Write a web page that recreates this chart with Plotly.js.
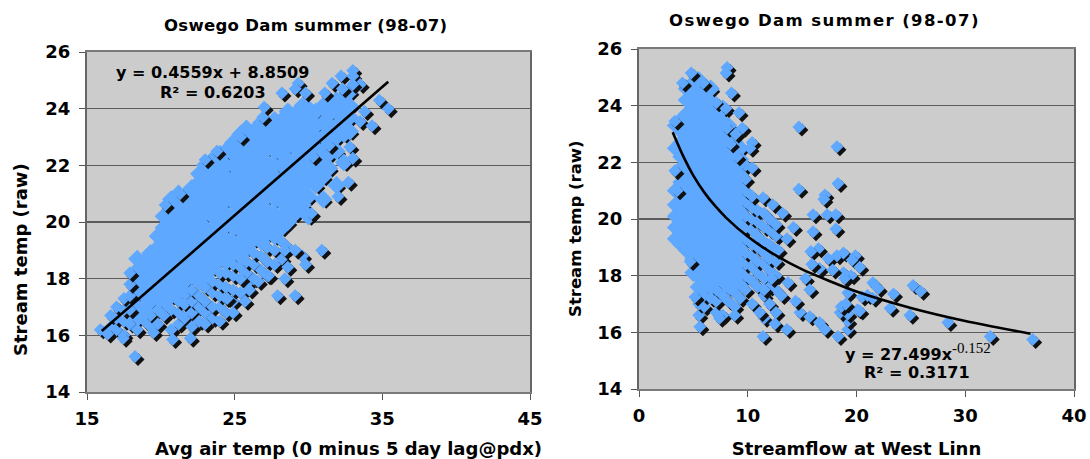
<!DOCTYPE html>
<html><head><meta charset="utf-8">
<script src="https://cdn.plot.ly/plotly-3.0.1.min.js"></script>
<style>html,body{margin:0;padding:0;background:#fff}#c{width:1090px;height:459px}</style>
</head><body><div id="c"></div>
<script>
// LEFT PANEL: individually read points on the cloud's rim
const airEdgeX = [18.25,15.9,16.4,17.45,20.8,22,19.5,24.9,23,24,20.3,21.3,23,23.8,25.4,27,26.9,28.2,29.3,29.1,29.8,31.1,31.6,32.2,33,33,32.3,33.5,33,34.8,35.4,33.8,33.5,32.8,33,32.7,32,30.2,30.9,29.1,27.9,25.7,28.4,29.1,29.8,28.4,26,27.3,26.6,24.5,25.4,30.3,31.4,34.3];
const airEdgeY = [15.25,16.2,16.05,15.9,15.85,15.9,16.1,16.8,16.4,16.5,20.6,21,22.2,22.5,23,24.05,23.7,24.55,24.9,24.7,24.55,24.55,24.9,25.15,25.35,25.15,24.7,24.85,24.85,24.3,24,23.9,23.55,22.65,22.25,21.4,20.9,20.3,19,17.4,17.4,17.2,19,19,18.5,18,17.6,18.1,17.9,17.3,18,22.3,22.7,23.4];
// LEFT PANEL: the dense body of the cloud, one row per air-temperature column
const airColX = [16.6,17.0,17.5,17.9,18.4,18.9,19.3,19.8,20.2,20.7,21.2,21.6,22.1,22.6,23.0,23.5,24.0,24.4,24.9,25.4,25.8,26.3,26.8,27.2,27.7,28.2,28.6,29.1,29.6,30.0,30.5,31.0,31.4,31.9,32.4,32.8];
const airColY = [
[16.3,16.7],[16.2,16.6,17.0],[16.0,16.5,16.9,17.3],[16.4,16.9,17.4,17.8,18.2],[16.2,16.6,17.0,17.5,17.9,18.3,18.7],
[16.5,16.9,17.4,17.8,18.2,18.6],[16.3,16.7,17.2,17.6,18.1,18.5,18.9],[16.4,16.9,17.3,17.8,18.2,18.7,19.1,19.5],
[16.7,17.1,17.6,18,18.4,18.9,19.3,19.8,20.2],[16.2,16.9,17.4,17.8,18.3,18.7,19.2,19.6,20,20.4,20.8],
[16.4,16.8,17.2,17.7,18.1,18.5,19,19.4,19.9,20.3,20.7,21],[16.6,17.1,17.5,17.9,18.4,18.8,19.3,19.7,20.1,20.5,20.9],
[16.3,16.8,17.2,17.6,18.1,18.6,19,19.5,19.9,20.3,20.8,21.2],[16.5,17,17.4,17.9,18.3,18.8,19.2,19.6,20.1,20.5,21,21.4,21.7],
[16.8,17.2,17.7,18.1,18.5,19,19.4,19.8,20.3,20.7,21.2,21.6,22],[16.6,17,17.5,17.9,18.4,18.8,19.3,19.7,20.2,20.6,21,21.5,21.9,22.2],
[17,17.4,17.8,18.2,18.7,19.1,19.5,20,20.4,20.9,21.3,21.7,22.1,22.4],[16.8,17.3,17.7,18.2,18.6,19,19.4,19.9,20.3,20.8,21.2,21.6,22,22.5],
[17.2,17.6,18.1,18.5,18.9,19.3,19.8,20.2,20.7,21.1,21.5,22,22.4,22.8],[17.5,18,18.4,18.8,19.2,19.7,20.1,20.5,21,21.4,21.8,22.3,22.7,23.1],
[17.8,18.2,18.6,19.1,19.5,20,20.4,20.9,21.3,21.7,22.2,22.6,23,23.3],[18,18.5,18.9,19.4,19.8,20.2,20.7,21.1,21.5,22,22.4,22.8,23.2],
[18.3,18.8,19.3,19.7,20.1,20.5,21,21.4,21.8,22.3,22.7,23.1,23.5],[18.1,18.6,19.1,19.6,20,20.4,20.9,21.3,21.7,22.1,22.6,23,23.4],
[18.5,19,19.5,19.9,20.3,20.8,21.2,21.6,22,22.5,22.9,23.3,23.6],[18.7,19.3,19.8,20.2,20.7,21.1,21.5,22,22.4,22.8,23.2,23.6],
[18.4,19.1,20,20.5,21,21.4,21.8,22.2,22.7,23.1,23.5,23.9],[20.3,20.8,21.3,21.7,22.1,22.6,23,23.4,23.8],
[18.8,20.6,21.1,21.6,22,22.4,22.8,23.3,23.7,24.1],[20.2,20.9,21.5,21.9,22.3,22.7,23.2,23.6,24],
[21.3,21.8,22.2,22.6,23,23.4,23.9],[20.8,21.6,22.1,22.5,23,23.5,24.1],[21.9,22.4,22.9,23.4,23.8,24.2],
[21.3,22.5,23,23.4,23.9,24.3],[22.1,23.1,23.6,24,24.4],[23.2,23.7,24.1,24.6]];

// RIGHT PANEL: individually read points on the cloud's rim and the loose tail
const flowEdgeX = [4.8,8.1,8,8.5,5.9,4,3.3,3.3,3.5,4.7,5.15,5.6,7.4,8.8,11.4,11.1,12.5,13.6,7.1,8,9.2,9.5,8.1,8.9,10.4,10.2,8.4,10.4,9,11.4,12.3,13.2,14.7,18.2,14.7,18.3,17.1,17.0,16,17.3,18.1,16,18.1,16.5,15.8,17.4,18.2,18.8,19.9,19.6,20.3,18.8,16.6,15.3,15.7,13.7,14.8,15.7,16.6,17.1,18.3,19.2,19.2,18.5,19.2,20.1,19.2,20.5,21.5,22,23.4,25.2,25.9,23.1,24.9,28.4,32.3,36.2,20.3,21,21.5,14.2,13.6,12.8,13.1,14.4,12.2,11.5,15.9,17.8,19.5,18.9,18.6,19.0];
const flowEdgeY = [25.15,25.35,25.15,24.45,24.8,24.8,23.45,21.7,21,18.5,17.25,16.2,16.5,16.6,15.85,16.7,16.3,16.1,24.1,23.9,23.75,23.2,23.2,23,22.7,22.5,22.65,21.8,22.2,20.75,20.5,20.2,23.25,22.55,21.05,21.25,20.85,20.7,20.15,20.15,20.15,19.55,19.65,18.95,18.85,18.6,18.7,18.8,18.7,18.55,18.3,18.1,18.25,17.9,17.5,17.75,16.7,16.55,16.35,16.1,15.85,16.1,16.4,16.7,16.65,16.8,17.4,17.25,17.75,17.55,17.35,17.65,17.45,16.85,16.6,16.35,15.85,15.75,16.75,17.3,17.2,19.7,19.3,18.9,17.3,17.1,17.9,17.5,18.4,18.2,18,17.9,16.9,17];
// RIGHT PANEL: the dense body, one row per streamflow column
const flowColX = [3.4,3.9,4.4,5.0,5.5,6.0,6.6,7.1,7.7,8.2,8.8,9.3,9.8,10.4,10.9,11.5,12.0,12.6];
const flowColY = [
[19.3,19.7,20.1,20.5,21,22.5,23.3],[19.1,19.6,20,20.4,20.9,21.3,21.8,22.2,22.7,23.1,23.5],
[18.9,19.3,19.8,20.2,20.6,21.1,21.5,22,22.4,22.8,23.2,23.7,24.2,24.6],[18.1,18.6,19,19.5,19.9,20.3,20.8,21.2,21.6,22.1,22.5,23,23.4,23.9,24.3,24.8],
[16.6,17,17.6,18,18.4,18.9,19.3,19.7,20.2,20.6,21,21.5,21.9,22.4,22.8,23.2,23.6,24,24.5,24.9],
[16.9,17.3,17.8,18.2,18.6,19.1,19.5,20,20.4,20.8,21.3,21.7,22.2,22.6,23,23.5,23.9,24.3,24.7],
[17.2,17.6,18.1,18.5,18.9,19.3,19.8,20.2,20.7,21.1,21.5,22,22.4,22.8,23.3,23.7,24.1,24.6],
[16.7,17.1,17.5,18,18.4,18.8,19.2,19.7,20.1,20.6,21,21.4,21.9,22.3,22.7,23.1,23.6,24],
[16.6,17.3,17.8,18.2,18.7,19.1,19.5,20,20.4,20.8,21.3,21.7,22.1,22.6,23,23.4,23.9],
[17.1,17.6,18,18.5,18.9,19.3,19.8,20.2,20.6,21.1,21.5,21.9,22.4,22.8,23.3],
[16.9,17.4,17.9,18.3,18.8,19.2,19.6,20.1,20.5,20.9,21.4,21.8,22.3,22.7],
[17.2,17.7,18.1,18.6,19,19.5,19.9,20.3,20.8,21.2,21.6,22.1,22.5],
[17.5,18,18.4,18.8,19.3,19.7,20.1,20.6,21,21.4,21.9],[17,17.8,18.3,18.7,19.1,19.6,20,20.4,20.8],
[17.6,18.1,18.5,19,19.4,19.9,20.3],[16.5,17.3,17.9,18.4,18.8,19.2,19.7,20.2],[17,17.6,18.2,18.6,19.1,19.6,20],[16.7,17.5,18,18.5,18.9,19.4,19.8]];

// Trendlines
const airLineX = [16,35.4];
const airLineY = [16.15,24.95];
const flowLineX = [3.1,4,5,6,7,8,10,12,15,20,25,30,36];
const flowLineY = [23.06,22.27,21.53,20.94,20.46,20.05,19.38,18.85,18.22,17.44,16.86,16.4,15.95];

const titleText = 'Oswego Dam summer (98-07)';
const xTitleLeft = 'Avg air temp (0 minus 5 day lag@pdx)';
const xTitleRight = 'Streamflow at West Linn';
const yTitleText = 'Stream temp (raw)';
const eqLeft = ['y = 0.4559x + 8.8509','R² = 0.6203'];
const eqRight = ['y = 27.499x<sup><span style="font-family:Liberation Serif;font-weight:400;font-size:15px">-0.152</span></sup>','R² = 0.3171'];

const W=1090,H=459,FONT='DejaVu Sans';
const BLUE='#5fa8ff',INK='#111111';
const L={x0:87,x1:530,y0:392,y1:52,xr:[15,45],yr:[14,26]};
const R={x0:639,x1:1074,y0:389,y1:49,xr:[0,40],yr:[14,26]};
const SH=3, MARK=10, BODY=14;
const airLoose=(x,y)=>y<0.31*x+10.8||x<18;
const flowLoose=(x,y)=>y<17.6||x>9.6;

function cloud(edgeX,edgeY,colX,colY,P,xa,ya,isLoose){
  const dx=SH*(P.xr[1]-P.xr[0])/(P.x1-P.x0), dy=SH*(P.yr[1]-P.yr[0])/(P.y0-P.y1);
  const X=[],Y=[],C=[],S=[];
  const bx=[],by=[],lx=[],ly=[];
  colX.forEach((v,i)=>colY[i].forEach(y=>{
    if(isLoose(v,y)){lx.push(v);ly.push(y);}else{bx.push(v);by.push(y);}
  }));
  bx.forEach((v,i)=>{X.push(v+dx);Y.push(by[i]-dy);C.push(INK);S.push(MARK);});
  bx.forEach((v,i)=>{X.push(v);Y.push(by[i]);C.push(BLUE);S.push(BODY);});
  lx.forEach((v,i)=>{X.push(v+dx,v);Y.push(ly[i]-dy,ly[i]);C.push(INK,BLUE);S.push(MARK,MARK);});
  edgeX.forEach((v,i)=>{X.push(v+dx,v);Y.push(edgeY[i]-dy,edgeY[i]);C.push(INK,BLUE);S.push(MARK,MARK);});
  return {type:'scatter',mode:'markers',x:X,y:Y,xaxis:xa,yaxis:ya,hoverinfo:'skip',
    marker:{symbol:'diamond',size:S,color:C,opacity:1,line:{width:0}},cliponaxis:true};
}
function line(x,y,xa,ya){return {type:'scatter',mode:'lines',x,y,xaxis:xa,yaxis:ya,hoverinfo:'skip',
  line:{color:'#000',width:2.6,shape:'spline',smoothing:0.6}};}

function xAxis(P,title,standoff,anchor){return {domain:[P.x0/W,P.x1/W],range:P.xr,dtick:10,tick0:P.xr[0],anchor,
  showgrid:false,zeroline:false,showline:true,mirror:true,linecolor:'#7a7a7a',linewidth:2,
  ticks:'outside',ticklen:6,tickcolor:'#555',tickwidth:1,ticklabelstandoff:3,
  tickfont:{family:FONT,size:18,weight:700,color:'#000'},
  title:title?{text:title,standoff,font:{family:FONT,size:18,weight:700,color:'#000'}}:undefined};}
function yAxis(P,anchor){return {domain:[1-P.y0/H,1-P.y1/H],range:P.yr,dtick:2,anchor,
  showgrid:true,gridcolor:'#5c5c5c',gridwidth:1.4,zeroline:false,showline:true,mirror:true,linecolor:'#666',linewidth:2,
  ticks:'outside',ticklen:6,tickcolor:'#555',tickwidth:1,ticklabelstandoff:5,
  tickfont:{family:FONT,size:18,weight:700,color:'#000'}};}
function note(text,px,py,size,angle){return {text,xref:'paper',yref:'paper',x:px/W,y:1-py/H,showarrow:false,xanchor:'center',yanchor:'middle',textangle:angle||0,
  font:{family:FONT,size:size,weight:700,color:'#000'}};}
function spaced(t,px){return '<span style="letter-spacing:'+px+'px">'+t+'</span>';}

Plotly.newPlot('c',[
  cloud(airEdgeX,airEdgeY,airColX,airColY,L,'x','y',airLoose),
  line(airLineX,airLineY,'x','y'),
  cloud(flowEdgeX,flowEdgeY,flowColX,flowColY,R,'x2','y2',flowLoose),
  line(flowLineX,flowLineY,'x2','y2')
],{
  width:W,height:H,margin:{l:0,r:0,t:0,b:0},showlegend:false,
  paper_bgcolor:'#fff',plot_bgcolor:'#cccccc',
  xaxis:xAxis(L,null,0,'y'),yaxis:yAxis(L,'x'),
  xaxis2:xAxis(R,xTitleRight,24,'y2'),yaxis2:yAxis(R,'x2'),
  annotations:[
    note(spaced(titleText,0.3),305,26,16.5),note(spaced(titleText,1.4),824,21,16.5),
    note(xTitleLeft,348,448.5,18),
    note(yTitleText,20,260,18,-90),note(yTitleText,575,228,16.5,-90),
    note(eqLeft[0],212,72,16),note(eqLeft[1],213,92,16),
    note(eqRight[0],918,352,16),note(eqRight[1],917,372,16)
  ]
},{staticPlot:true,displayModeBar:false});
</script></body></html>
